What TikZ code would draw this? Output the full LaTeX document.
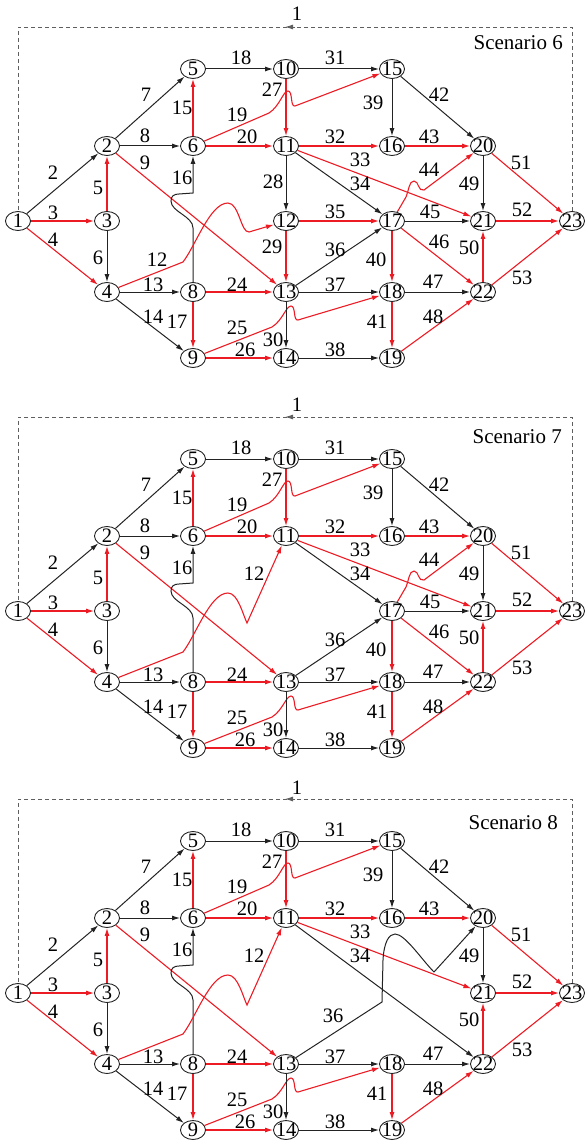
\documentclass[tikz,border=0pt]{standalone}
\usepackage{fontspec}
\setmainfont{Liberation Serif}
\usetikzlibrary{arrows.meta,shapes.geometric}
\definecolor{redE}{RGB}{237,28,36}
\definecolor{blkE}{RGB}{35,35,35}
\definecolor{dashE}{RGB}{95,95,95}
\def\pf{a}
\newcommand\ND[4]{\node[nd,label={[nl]center:#4}] (#1) at (#2,#3) {};}
\newcommand\LB[3]{\node[el] (\pf l#3) at (#1,#2) {#3};}
\newcommand\KE[2]{\draw[ke] (\pf#1) -- (\pf#2);}
\newcommand\RE[2]{\draw[re] (\pf#1) -- (\pf#2);}
\newcommand\Common[3]{%
  \ND{\pf1}{18}{221}{1}
  \ND{\pf2}{107}{146}{2}
  \ND{\pf3}{107}{221}{3}
  \ND{\pf4}{107}{292}{4}
  \ND{\pf5}{193}{69}{5}
  \ND{\pf6}{193}{146}{6}
  \ND{\pf8}{193}{292}{8}
  \ND{\pf9}{193}{358}{9}
  \ND{\pf10}{286}{69}{10}
  \ND{\pf11}{286}{146}{11}
  \ND{\pf13}{286}{292}{13}
  \ND{\pf14}{286}{358}{14}
  \ND{\pf15}{392}{69}{15}
  \ND{\pf16}{392}{146}{16}
  \ND{\pf18}{392}{292}{18}
  \ND{\pf19}{392}{358}{19}
  \ND{\pf20}{483}{146}{20}
  \ND{\pf21}{483}{221}{21}
  \ND{\pf22}{483}{292}{22}
  \ND{\pf23}{572}{221}{23}
  % dummy arc 1
  \coordinate (\pf tr) at (572,27);
  \coordinate (\pf tl) at (18,27);
  \coordinate (\pf am) at (285,27);
  \coordinate (\pf ar) at (295,27);
  \draw[dummy] (\pf23.north) -- (\pf tr) -- (\pf tl) -- (\pf1.north);
  \draw[dashE,line width=0.9pt,-{Latex[length=8pt,width=5pt]}] (\pf ar) -- (\pf am);
  \node[el] (\pf l1) at (297,#2) {1};
  \node[el,anchor=east,font=\fontsize{21}{21}\selectfont] (\pf sc) at (#3) {Scenario #1};
  % common edges
  \KE{1}{2} \RE{1}{3} \RE{1}{4} \RE{3}{2} \KE{3}{4}
  \KE{2}{5} \KE{2}{6} \RE{2}{13}
  \KE{4}{8} \KE{4}{9} \RE{6}{5}
  \draw[ke] (\pf8) -- (193,228) .. controls (193,216) and (171,212) .. (171,201)
     .. controls (171,196) and (174,194) .. (179,194) -- (193,193) -- (\pf6);
  \RE{8}{9} \KE{5}{10}
  \draw[re] (\pf6) -- (269,113) .. controls (280,106) and (283,91) .. (288,91)
     .. controls (293,91) and (290,107) .. (295,106) -- (\pf15);
  \RE{6}{11} \RE{8}{13}
  \draw[re] (\pf9) -- (272,327) .. controls (283,320) and (286,306) .. (291,306)
     .. controls (296,306) and (293,321) .. (298,320) -- (\pf18);
  \RE{9}{14} \RE{10}{11} \KE{13}{14} \KE{10}{15} \RE{11}{16} \RE{11}{21}
  \KE{13}{18} \KE{14}{19} \KE{15}{16} \RE{18}{19} \KE{15}{20} \RE{16}{20}
  \KE{18}{22} \RE{19}{22} \KE{20}{21} \RE{22}{21} \RE{20}{23} \RE{21}{23} \RE{22}{23}
  % common labels
  \LB{53}{173}{2} \LB{53}{213}{3} \LB{53}{240}{4} \LB{98}{188}{5} \LB{98}{258}{6}
  \LB{146}{95}{7} \LB{145}{136}{8} \LB{145}{163}{9}
  \LB{153}{285}{13} \LB{153}{317}{14} \LB{182}{108}{15} \LB{182}{178}{16}
  \LB{177}{322}{17} \LB{241}{58}{18} \LB{237}{115}{19} \LB{247}{137}{20}
  \LB{237}{285}{24} \LB{237}{328}{25} \LB{245}{350}{26} \LB{272}{90}{27}
  \LB{273}{340}{30} \LB{335}{58}{31} \LB{335}{137}{32} \LB{360}{160}{33}
  \LB{360}{184}{34} \LB{335}{285}{37} \LB{335}{350}{38} \LB{373}{103}{39}
  \LB{377}{322}{41} \LB{439}{95}{42} \LB{429}{137}{43}
  \LB{433}{282}{47} \LB{433}{317}{48} \LB{469}{184}{49} \LB{469}{248}{50}
  \LB{521}{163}{51} \LB{522}{210}{52} \LB{522}{278}{53}
}
\newcommand\WithSeventeen{%
  \ND{\pf17}{392}{221}{17}
  \KE{11}{17} \KE{13}{17} \RE{17}{18} \KE{17}{21} \RE{17}{22}
  \draw[re] (\pf17) -- (406,197) .. controls (409,190) and (409,181) .. (414,181)
     .. controls (419,181) and (418,192) .. (424,190) -- (\pf20);
  \LB{335}{250}{36} \LB{376}{260}{40} \LB{429}{170}{44} \LB{430}{212}{45} \LB{439}{242}{46}
}
\newcommand\TwelveToEleven{%
  \draw[re] (\pf4) -- (183,262) .. controls (196,245) and (210,203) .. (228,203)
     .. controls (238,203) and (243,225) .. (247,233) -- (\pf11);
  \LB{254}{184}{12}
}
\begin{document}
\begin{tikzpicture}[x=1pt,y=-1pt,
  nd/.style={ellipse,draw=blkE,line width=0.9pt,minimum width=25pt,minimum height=19pt,inner sep=0pt,fill=white},
  nl/.style={inner sep=0pt,font=\fontsize{20.5}{20.5}\selectfont},
  el/.style={inner sep=0pt,font=\fontsize{20.5}{20.5}\selectfont},
  ke/.style={draw=blkE,line width=1pt,-{Latex[length=8pt,width=5pt]}},
  re/.style={draw=redE,line width=1.1pt,-{Latex[length=8pt,width=5pt]}},
  dummy/.style={draw=dashE,line width=0.9pt,dash pattern=on 4pt off 3pt},
]
\useasboundingbox (0,0) rectangle (585,1142);
% Scenario 6
\begin{scope}
  \def\pf{a}
  \Common{6}{14}{563,43}
  \ND{\pf12}{286}{221}{12}
  \WithSeventeen
  \draw[re] (\pf4) -- (183,262) .. controls (196,245) and (210,203) .. (228,203)
     .. controls (239,203) and (241,233) .. (249,232) -- (\pf12);
  \LB{157}{260}{12}
  \KE{11}{12} \RE{12}{13} \RE{12}{17}
  \LB{273}{182}{28} \LB{272}{247}{29} \LB{335}{212}{35}
\end{scope}
% Scenario 7
\begin{scope}[shift={(0,390)}]
  \def\pf{b}
  \Common{7}{15}{562,47}
  \WithSeventeen
  \TwelveToEleven
\end{scope}
% Scenario 8
\begin{scope}[shift={(0,772)}]
  \def\pf{c}
  \Common{8}{16}{558,51}
  \TwelveToEleven
  \KE{11}{22}
  \draw[ke] (\pf13) -- (382,230) -- (383,188) .. controls (384,170) and (389,162) .. (395,162)
     .. controls (405,162) and (422,188) .. (434,200) -- (\pf20);
  \LB{333}{244}{36}
\end{scope}
\end{tikzpicture}
\end{document}
